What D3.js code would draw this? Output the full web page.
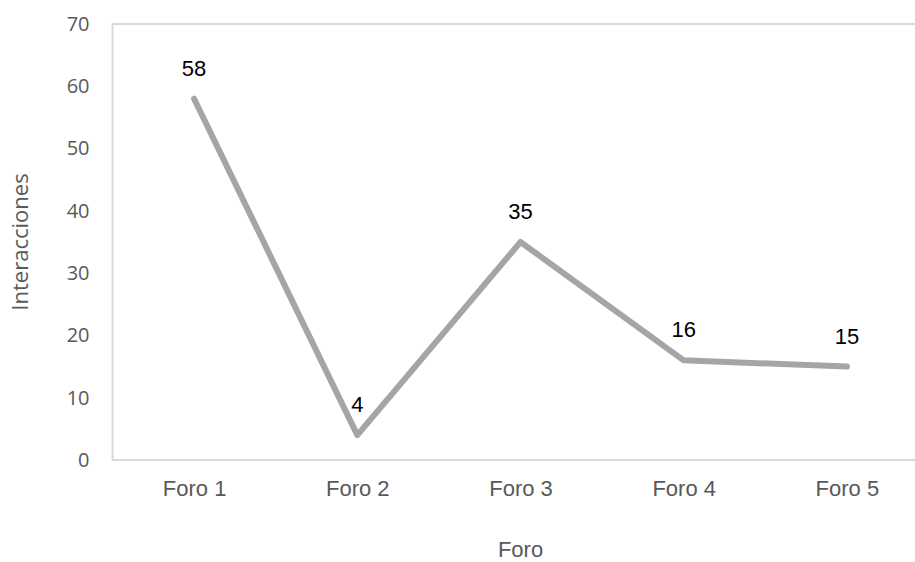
<!DOCTYPE html>
<html>
<head>
<meta charset="utf-8">
<script src="https://cdn.jsdelivr.net/npm/d3@7"></script>
<style>
  html, body { margin: 0; padding: 0; background: #fff; }
  svg { display: block; overflow: hidden; }
</style>
</head>
<body>
<svg id="chart" width="915" height="562"></svg>
<script>
const categories = ["Foro 1", "Foro 2", "Foro 3", "Foro 4", "Foro 5"];
const values = [58, 4, 35, 16, 15];
const yTicks = [0, 10, 20, 30, 40, 50, 60, 70];
const xTitle = "Foro";
const yTitle = "Interacciones";

(function () {
const svg = d3.select("#chart");
const pLeft = 112.5, pRight = 928.5, pTop = 24, pBottom = 460;

const x = d3.scalePoint().domain(categories).range([pLeft, pRight]).padding(0.5);
const y = d3.scaleLinear().domain([0, 70]).range([pBottom, pTop]);

// plot area border
svg.append("rect")
  .attr("x", pLeft).attr("y", y(70))
  .attr("width", pRight - pLeft).attr("height", y(0) - y(70))
  .attr("fill", "none").attr("stroke", "#D9D9D9").attr("stroke-width", 2);

// y axis
const yAxis = svg.append("g")
  .attr("transform", `translate(${pLeft},0)`)
  .call(d3.axisLeft(y).tickValues(yTicks).tickSize(0).tickPadding(23));
yAxis.select(".domain").remove();
yAxis.selectAll("text")
  .attr("fill", "#595959")
  .style("font-family", "'Open Sans', sans-serif")
  .style("font-size", "20px");

// x axis
const xAxis = svg.append("g")
  .attr("transform", `translate(0,${pBottom})`)
  .call(d3.axisBottom(x).tickSize(0).tickPadding(20));
xAxis.select(".domain").remove();
xAxis.selectAll("text")
  .attr("fill", "#595959")
  .attr("dy", "0.71em")
  .style("font-family", "'Liberation Sans', Arial, sans-serif")
  .style("font-size", "22px");

// line
const line = d3.line()
  .x((d, i) => x(categories[i]))
  .y(d => y(d));
svg.append("path")
  .datum(values)
  .attr("d", line)
  .attr("fill", "none")
  .attr("stroke", "#A5A5A5")
  .attr("stroke-width", 6)
  .attr("stroke-linecap", "round")
  .attr("stroke-linejoin", "round");

// data labels
svg.append("g").selectAll("text")
  .data(values)
  .join("text")
  .attr("x", (d, i) => x(categories[i]))
  .attr("y", d => y(d) - 23)
  .attr("text-anchor", "middle")
  .attr("fill", "#000")
  .style("font-family", "'Liberation Sans', Arial, sans-serif")
  .style("font-size", "22px")
  .text(d => d);

// axis titles
svg.append("text")
  .attr("x", (pLeft + pRight) / 2)
  .attr("y", 557)
  .attr("text-anchor", "middle")
  .attr("fill", "#595959")
  .style("font-family", "'Liberation Sans', Arial, sans-serif")
  .style("font-size", "22px")
  .text(xTitle);

svg.append("text")
  .attr("transform", `translate(28,${(pTop + pBottom) / 2}) rotate(-90)`)
  .attr("text-anchor", "middle")
  .attr("fill", "#595959")
  .style("font-family", "'Open Sans', sans-serif")
  .style("font-size", "22px")
  .text(yTitle);
})();
</script>
</body>
</html>
